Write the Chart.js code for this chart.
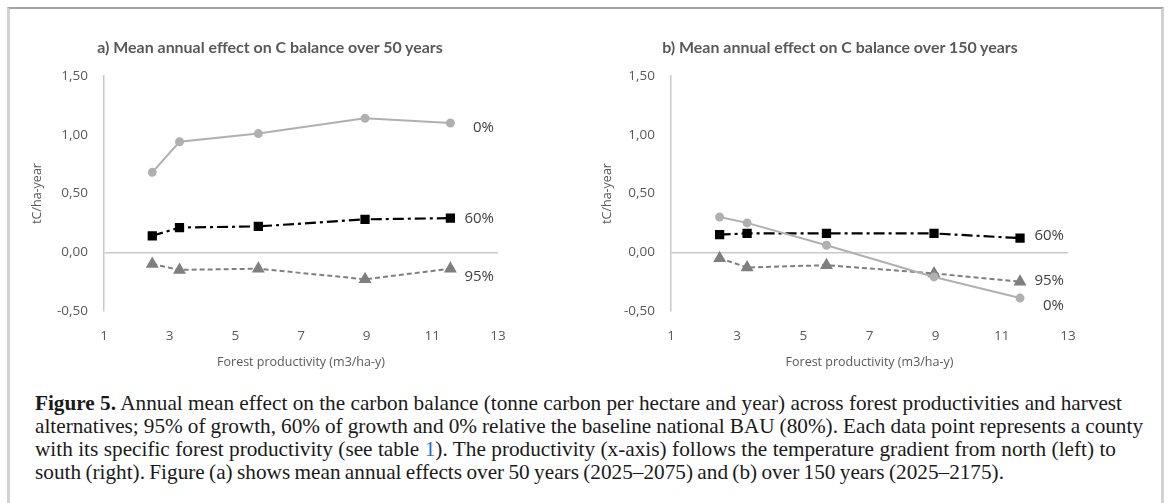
<!DOCTYPE html>
<html>
<head>
<meta charset="utf-8">
<script src="https://cdn.jsdelivr.net/npm/chart.js@4.4.1/dist/chart.umd.min.js"></script>
<style>
  html, body { margin:0; padding:0; background:#fff; width:1169px; height:503px; overflow:hidden; }
  #frame { position:absolute; left:7px; top:7px; width:1151px; height:520px;
           border-top:2px solid #a2a2a2; border-left:3px solid #d2d2d2; border-right:3px solid #d2d2d2; box-sizing:content-box; }
  canvas { position:absolute; }
  .ttl { position:absolute; top:36px; font-family:'Lato', sans-serif; font-weight:700; font-size:16px; line-height:22px;
         color:#595959; white-space:nowrap; transform:translateX(-50%); }
  #cap { position:absolute; left:35px; top:392px; font-family:'Liberation Serif', serif; font-size:18px;
         line-height:23px; color:#1a1a1a; white-space:nowrap; }
  #cap div { display:block; width:max-content; }
  #cap a { color:#2b6cb8; text-decoration:none; }
</style>
</head>
<body>
<div id="frame"></div>
<canvas id="ca" width="520" height="370" style="left:10px; top:10px;"></canvas>
<canvas id="cb" width="520" height="370" style="left:580px; top:10px;"></canvas>
<div class="ttl" id="ta" style="left:270px;"></div>
<div class="ttl" id="tb" style="left:840px;"></div>
<div id="cap">
  <div data-w="1087"><b>Figure 5.</b> Annual mean effect on the carbon balance (tonne carbon per hectare and year) across forest productivities and harvest</div>
  <div data-w="1108">alternatives; 95% of growth, 60% of growth and 0% relative the baseline national BAU (80%). Each data point represents a county</div>
  <div data-w="1081">with its specific forest productivity (see table <a>1</a>). The productivity (x-axis) follows the temperature gradient from north (left) to</div>
  <div data-w="969">south (right). Figure (a) shows mean annual effects over 50 years (2025–2075) and (b) over 150 years (2025–2175).</div>
</div>
<script>
// ---- data ----
const productivity = [2.47, 3.3, 5.7, 8.95, 11.55];
const seriesLabels = ['0%', '60%', '95%'];
const a50_h0  = [0.68, 0.94, 1.01, 1.14, 1.10];
const a50_h60 = [0.14, 0.21, 0.22, 0.28, 0.29];
const a50_h95 = [-0.10, -0.15, -0.14, -0.23, -0.14];
const b150_h0  = [0.30, 0.25, 0.06, -0.21, -0.39];
const b150_h60 = [0.15, 0.16, 0.16, 0.16, 0.12];
const b150_h95 = [-0.05, -0.13, -0.11, -0.18, -0.25];
const xTicks = [1, 3, 5, 7, 9, 11, 13];
const yTicks = [-0.5, 0, 0.5, 1, 1.5];
const titleA = 'a) Mean annual effect on C balance over 50 years';
const titleB = 'b) Mean annual effect on C balance over 150 years';
const yTitle = 'tC/ha-year';
const xTitle = 'Forest productivity (m3/ha-y)';

document.getElementById('ta').textContent = titleA;
document.getElementById('tb').textContent = titleB;

// fit text widths to the reference
function fitWidth(el, target) {
  const w = el.getBoundingClientRect().width;
  const fs = parseFloat(getComputedStyle(el).fontSize);
  el.style.fontSize = (fs * target / w) + 'px';
}
fitWidth(document.getElementById('ta'), 346);
fitWidth(document.getElementById('tb'), 356);
(function () {
  const cap = document.getElementById('cap');
  const lines = Array.from(cap.children);
  const w = lines[0].getBoundingClientRect().width;
  const fs = parseFloat(getComputedStyle(cap).fontSize);
  cap.style.fontSize = (fs * 1087 / w) + 'px';
  lines.forEach(l => {
    const target = parseFloat(l.dataset.w);
    const cw = l.getBoundingClientRect().width;
    const spaces = (l.textContent.trim().match(/ /g) || []).length;
    if (spaces) l.style.wordSpacing = ((target - cw) / spaces) + 'px';
  });
})();

const FONT = "'Open Sans', sans-serif";
const pts = arr => arr.map((v, i) => ({ x: productivity[i], y: v }));

const endLabels = {
  id: 'endLabels',
  afterDatasetsDraw(chart, args, opts) {
    const ctx = chart.ctx;
    chart.data.datasets.forEach((ds, i) => {
      const meta = chart.getDatasetMeta(i);
      const last = meta.data[meta.data.length - 1];
      ctx.save();
      ctx.font = '15px ' + FONT;
      ctx.fillStyle = '#404040';
      ctx.textAlign = 'right';
      ctx.textBaseline = 'middle';
      ctx.fillText(ds.label, chart.chartArea.right - opts.inset, last.y + ds.labelDy);
      ctx.restore();
    });
  }
};

function makeChart(id, d0, d60, d95, yAxisWidth, dys) {
  return new Chart(document.getElementById(id), {
    type: 'line',
    data: {
      datasets: [
        { label: seriesLabels[0], data: pts(d0), borderColor: '#b0b0b0', backgroundColor: '#b0b0b0',
          borderWidth: 2, pointStyle: 'circle', pointRadius: 3.5, labelDy: dys[0] },
        { label: seriesLabels[1], data: pts(d60), borderColor: '#000', backgroundColor: '#000',
          borderWidth: 2.2, borderDash: [11, 4, 3, 4], pointStyle: 'rect', pointRadius: 5, labelDy: dys[1] },
        { label: seriesLabels[2], data: pts(d95), borderColor: '#7f7f7f', backgroundColor: '#7f7f7f',
          borderWidth: 2, borderDash: [5, 3], pointStyle: 'triangle', pointRadius: 5.5, labelDy: dys[2] }
      ]
    },
    options: {
      responsive: false,
      devicePixelRatio: 1,
      animation: false,
      layout: { padding: { left: 0, right: 32, top: 66, bottom: 0 } },
      plugins: {
        legend: { display: false },
        tooltip: { enabled: false },
        title: { display: false },
        endLabels: { inset: 4 }
      },
      scales: {
        x: {
          type: 'linear', min: 1, max: 13,
          afterBuildTicks: s => { s.ticks = xTicks.map(v => ({ value: v })); },
          afterFit: s => { s.height = 69; },
          ticks: { color: '#595959', font: { family: FONT, size: 13.5 }, padding: 9 },
          grid: { display: false },
          border: { display: false },
          title: { display: true, text: xTitle, color: '#595959', font: { family: FONT, size: 12.5 }, padding: { bottom: 10 } }
        },
        y: {
          min: -0.5, max: 1.5,
          afterBuildTicks: s => { s.ticks = yTicks.map(v => ({ value: v })); },
          afterFit: s => { s.width = yAxisWidth; },
          ticks: { color: '#595959', font: { family: FONT, size: 13.5 }, padding: 16,
                   callback: v => v.toFixed(2).replace('.', ',') },
          grid: { drawTicks: false, lineWidth: 1.5,
                  color: c => (c.tick && c.tick.value === 0) ? '#c9c9c9' : 'rgba(0,0,0,0)' },
          border: { display: true, color: '#c9c9c9', width: 1.5 },
          title: { display: true, text: yTitle, color: '#595959', font: { family: FONT, size: 12.5 }, padding: { top: 20 } }
        }
      }
    },
    plugins: [endLabels]
  });
}

makeChart('ca', a50_h0, a50_h60, a50_h95, 94, [5, 1, 8]);
makeChart('cb', b150_h0, b150_h60, b150_h95, 91, [8, -2, -1]);
</script>
</body>
</html>
